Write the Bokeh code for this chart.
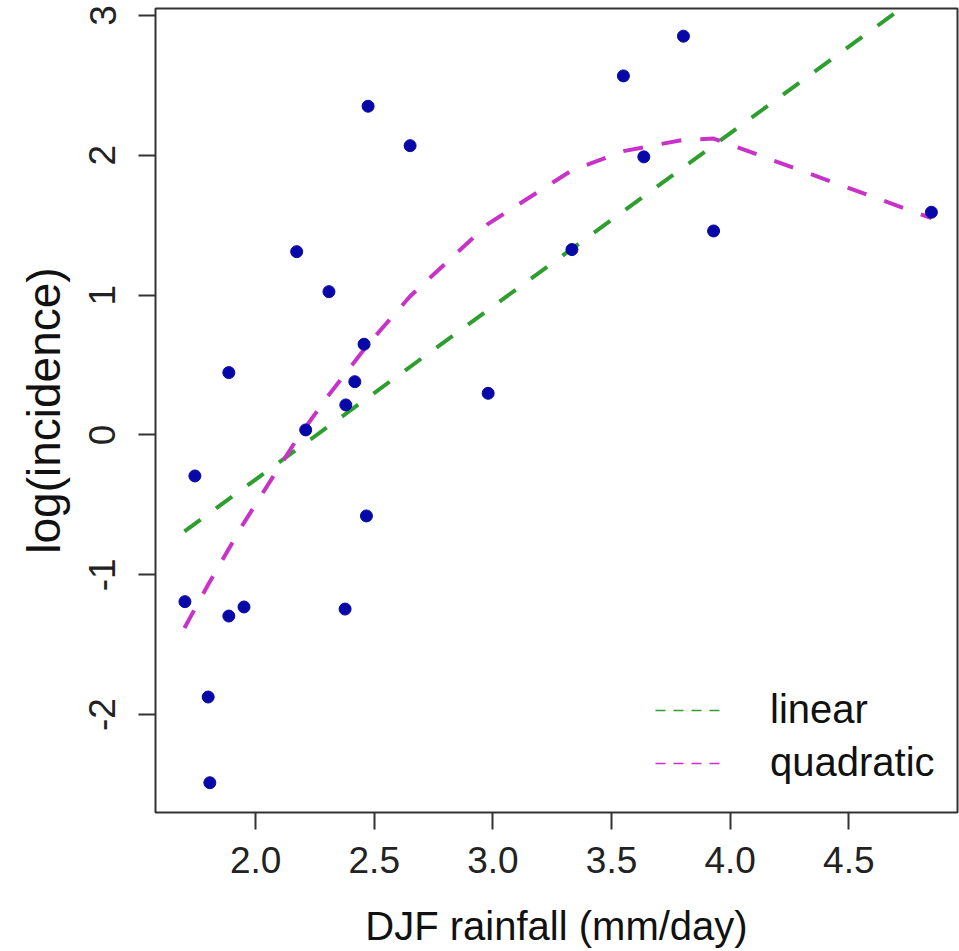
import math
from bokeh.plotting import figure
from bokeh.models import Range1d, Legend, LegendItem, FixedTicker
from bokeh.embed import file_html
from bokeh.resources import INLINE

# ---- data ----
rain_x = [1.702, 1.744, 1.800, 1.807, 1.887, 1.887, 1.951, 2.173, 2.211, 2.309,
          2.377, 2.380, 2.418, 2.457, 2.467, 2.474, 2.651, 2.980, 3.333, 3.550,
          3.636, 3.803, 3.930, 4.848]
log_inc = [-1.192, -0.293, -1.874, -2.487, 0.446, -1.295, -1.230, 1.311, 0.036, 1.025,
           -1.245, 0.215, 0.381, 0.649, -0.579, 2.351, 2.069, 0.298, 1.326, 2.568,
           1.989, 2.852, 1.459, 1.593]

linear_x = [1.70, 4.85]
linear_y = [-0.69, 3.21]

quad_x = [1.70, 1.80, 1.95, 2.17, 2.31, 2.47, 2.65, 2.98, 3.33, 3.55, 3.80, 3.93, 4.848]
quad_y = [-1.38, -1.07, -0.63, -0.04, 0.29, 0.64, 0.99, 1.51, 1.89, 2.03, 2.11, 2.12, 1.55]

x_ticks = [2.0, 2.5, 3.0, 3.5, 4.0, 4.5]
y_ticks = [-2, -1, 0, 1, 2, 3]

FONT = "Liberation Sans"
GREEN = "#2E9E2E"
MAGENTA = "#C832C8"
POINT = "#0808A8"
DARK = "#333333"

p = figure(width=959, height=951, output_backend="svg", toolbar_location=None,
           x_range=Range1d(1.578, 4.958), y_range=Range1d(-2.70, 3.05),
           min_border_left=155, min_border_right=2, min_border_top=8,
           min_border_bottom=139)

p.xgrid.visible = False
p.ygrid.visible = False
p.background_fill_color = "white"
p.border_fill_color = "white"
p.outline_line_color = DARK
p.outline_line_width = 2

for ax in (p.xaxis[0], p.yaxis[0]):
    ax.axis_line_color = None
    ax.major_tick_line_color = DARK
    ax.major_tick_line_width = 2
    ax.major_tick_in = 0
    ax.major_tick_out = 17
    ax.minor_tick_line_color = None
    ax.major_label_text_font = FONT
    ax.major_label_text_font_size = "37px"
    ax.major_label_text_color = "#222222"
    ax.axis_label_text_font = FONT
    ax.axis_label_text_font_style = "normal"
    ax.axis_label_text_color = "#111111"

p.xaxis.ticker = FixedTicker(ticks=x_ticks)
p.xaxis.major_label_overrides = {t: f"{t:.1f}" for t in x_ticks}
p.xaxis.axis_label = "DJF rainfall (mm/day)"
p.xaxis.axis_label_text_font_size = "40px"
p.xaxis.major_label_standoff = 17
p.xaxis.axis_label_standoff = 28

p.yaxis.ticker = FixedTicker(ticks=y_ticks)
p.yaxis.major_label_overrides = {t: str(t) for t in y_ticks}
p.yaxis.major_label_orientation = "vertical"
p.yaxis.axis_label = "log(incidence)"
p.yaxis.axis_label_text_font_size = "46px"
p.yaxis.major_label_standoff = 23
p.yaxis.axis_label_standoff = 17

# fitted curves
p.line(linear_x, linear_y, line_color=GREEN, line_width=4, line_dash="20 19")
p.line(quad_x, quad_y, line_color=MAGENTA, line_width=4, line_dash="20 19")

# points
p.scatter(rain_x, log_inc, size=12, fill_color=POINT, line_color=POINT)

# legend proxies (thin short dashes like the reference key)
nan = float("nan")
lg_lin = p.line([nan], [nan], line_color=GREEN, line_width=1.5, line_dash="10 8")
lg_quad = p.line([nan], [nan], line_color=MAGENTA, line_width=1.5, line_dash="10 8")

legend = Legend(items=[LegendItem(label="linear", renderers=[lg_lin]),
                       LegendItem(label="quadratic", renderers=[lg_quad])],
                location=(500, 27), orientation="vertical",
                border_line_color=None, background_fill_alpha=0,
                padding=0, margin=0, spacing=8,
                glyph_width=70, glyph_height=40, label_height=40,
                label_standoff=45, label_text_font=FONT,
                label_text_font_size="40px", label_text_color="#111111")
p.add_layout(legend)

open("out.html", "w").write(file_html(p, INLINE))
